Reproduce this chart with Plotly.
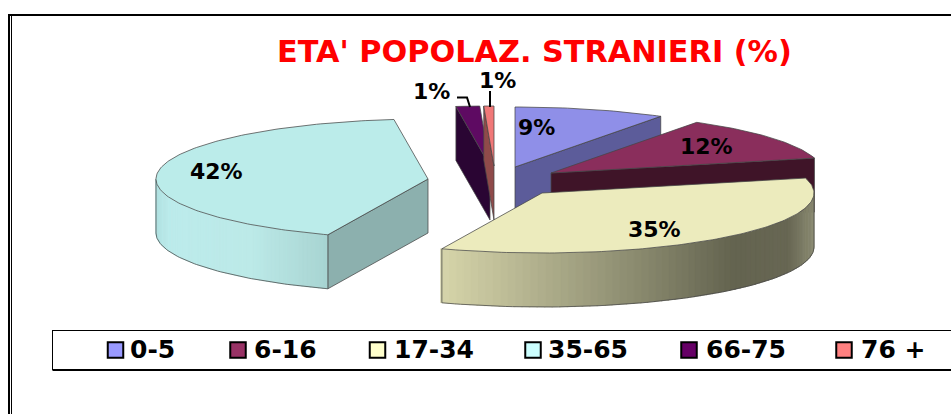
import math
import plotly.graph_objects as go

# ---- data ----
categories = ["0-5", "6-16", "17-34", "35-65", "66-75", "76 +"]
values = [9, 12, 35, 42, 1.4, 0.6]
top_colors = ["#8f8fe8", "#8a2e5c", "#ecebbd", "#bbecea", "#5e0a62", "#f07878"]
legend_colors = ["#9999ff", "#993366", "#ffffcc", "#ccffff", "#660066", "#ff8080"]
title_text = "ETA' POPOLAZ. STRANIERI (%)"

# ---- pie geometry (pixels of the 951x414 page) ----
RX, RY, DEPTH = 272, 60, 54
apex = {"0-5": (515, 167), "6-16": (551, 173), "17-34": (542, 193),
        "35-65": (428, 179), "66-75": (490, 166), "76 +": (494, 166)}
radial_wall = {"0-5": "#5c5c9a", "6-16": "#3f1428", "35-65": "#8cb0ae",
               "66-75": "#2a0533", "76 +": "#8f4a4a"}
# outer wall gradient stops: (page x position fraction, colour)
wall_grad = {"17-34": [(0, (214, 213, 170)), (.25, (178, 177, 142)), (.5, (142, 142, 114)),
                       (.78, (100, 100, 80)), (.93, (104, 103, 84)), (1, (140, 140, 115))],
             "35-65": [(0, (176, 226, 226)), (.08, (188, 236, 236)), (.55, (188, 234, 232)),
                       (1, (168, 212, 210))]}
draw_order = ["66-75", "76 +", "0-5", "6-16", "35-65", "17-34"]

fig = go.Figure()


def poly(xs, ys, fill, line="rgba(70,70,70,0.75)", width=1):
    fig.add_trace(go.Scatter(x=xs + xs[:1], y=ys + ys[:1], mode="lines", fill="toself",
                             fillcolor=fill, line=dict(color=line, width=width),
                             hoverinfo="skip", showlegend=False))


def pt(c, deg, depth=0):
    a = math.radians(deg)
    return c[0] + RX * math.sin(a), c[1] - RY * math.cos(a) + depth


def grad_color(stops, f):
    for (f0, c0), (f1, c1) in zip(stops, stops[1:]):
        if f <= f1:
            t = (f - f0) / (f1 - f0)
            return "rgb(%d,%d,%d)" % tuple(c0[i] + (c1[i] - c0[i]) * t for i in range(3))
    return "rgb(%d,%d,%d)" % stops[-1][1]


starts, acc = {}, 0.0
for name, v in zip(categories, values):
    starts[name] = (acc * 3.6, (acc + v) * 3.6)
    acc += v

for name in draw_order:
    i = categories.index(name)
    a0, a1 = starts[name]
    c = apex[name]
    # radial side wall, only the face turned to the viewer
    if name in radial_wall:
        ang = a1 if name in ("0-5", "6-16") else a0
        p = pt(c, ang)
        poly([c[0], p[0], p[0], c[0]], [c[1], p[1], p[1] + DEPTH, c[1] + DEPTH], radial_wall[name])
    # curved outer wall with a stepped shade
    w0, w1 = max(a0, 90), min(a1, 270)
    if w0 < w1 and name in wall_grad:
        n = 70
        xl, xr = pt(c, w1)[0], pt(c, w0)[0]
        for k in range(n):
            b0 = w0 + (w1 - w0) * k / n
            b1 = w0 + (w1 - w0) * (k + 1) / n + 0.3
            arc = [pt(c, b0 + (b1 - b0) * s / 3) for s in range(4)]
            xs = [q[0] for q in arc] + [q[0] for q in arc[::-1]]
            ys = [q[1] for q in arc] + [q[1] + DEPTH for q in arc[::-1]]
            col = grad_color(wall_grad[name], (sum(xs) / len(xs) - xl) / (xr - xl))
            poly(xs, ys, col, line=col, width=0.5)
        arc = [pt(c, w0 + (w1 - w0) * s / 80, DEPTH) for s in range(81)]
        fig.add_trace(go.Scatter(x=[q[0] for q in arc], y=[q[1] for q in arc], mode="lines",
                                 line=dict(color="rgba(70,70,70,0.75)", width=1),
                                 hoverinfo="skip", showlegend=False))
        for end in (w0, w1):
            e = pt(c, end)
            fig.add_trace(go.Scatter(x=[e[0], e[0]], y=[e[1], e[1] + DEPTH], mode="lines",
                                     line=dict(color="rgba(70,70,70,0.75)", width=1),
                                     hoverinfo="skip", showlegend=False))
    # top face
    m = max(3, int(a1 - a0))
    arc = [pt(c, a0 + (a1 - a0) * s / m) for s in range(m + 1)]
    poly([c[0]] + [q[0] for q in arc], [c[1]] + [q[1] for q in arc], top_colors[i])

# ---- legend strip ----
legend_x = [115.5, 238, 377.5, 533, 689, 844]
legend_text_x = [128, 252, 392, 546, 704, 859]
fig.add_trace(go.Scatter(
    x=legend_x, y=[350] * 6, mode="markers",
    marker=dict(symbol="square", size=15.5, color=legend_colors, line=dict(color="black", width=2)),
    hoverinfo="skip", showlegend=False))

shapes = [
    dict(type="line", x0=52.5, x1=960, y0=330.5, y1=330.5, line=dict(color="black", width=1)),
    dict(type="line", x0=52.5, x1=960, y0=370, y1=370, line=dict(color="black", width=2)),
    dict(type="line", x0=52.5, x1=52.5, y0=330, y1=370, line=dict(color="black", width=1)),
    dict(type="line", x0=8, x1=960, y0=15, y1=15, line=dict(color="black", width=2)),
    dict(type="line", x0=9, x1=9, y0=14, y1=420, line=dict(color="black", width=2)),
    dict(type="line", x0=11.5, x1=11.5, y0=14, y1=420, line=dict(color="black", width=1)),
    # leader lines of the two small slices
    dict(type="path", path="M457,97.5 L467,97.5 L470,107", line=dict(color="black", width=2)),
    dict(type="line", x0=490, x1=490, y0=91, y1=107, line=dict(color="black", width=2)),
]

annotations = [dict(x=534, y=51, text=title_text, showarrow=False, xanchor="center", yanchor="middle",
                    font=dict(family="DejaVu Sans", size=30.3, color="#ff0000", weight="bold"))]
label_pos = {"0-5": (536, 127), "6-16": (706, 146), "17-34": (654, 229), "35-65": (216, 171),
             "66-75": (431, 91), "76 +": (497, 80)}
for name, v in zip(categories, values):
    x, y = label_pos[name]
    annotations.append(dict(x=x, y=y, text=f"{max(round(v), 1)}%", showarrow=False,
                            font=dict(family="DejaVu Sans", size=22, color="black", weight="bold")))
for name, x in zip(categories, legend_text_x):
    annotations.append(dict(x=x, y=349, text=name, showarrow=False, xanchor="left",
                            font=dict(family="DejaVu Sans", size=25, color="black", weight="bold")))

axis = dict(visible=False, fixedrange=True)
fig.update_layout(
    width=951, height=414, margin=dict(l=0, r=0, t=0, b=0), autosize=False,
    paper_bgcolor="white", plot_bgcolor="white", showlegend=False,
    xaxis=dict(axis, range=[0, 951]), yaxis=dict(axis, range=[414, 0]),
    shapes=shapes, annotations=annotations)
fig.write_html("out.html", config={"displayModeBar": False},
               post_script="document.body.style.margin='0';document.body.style.overflow='hidden';")
